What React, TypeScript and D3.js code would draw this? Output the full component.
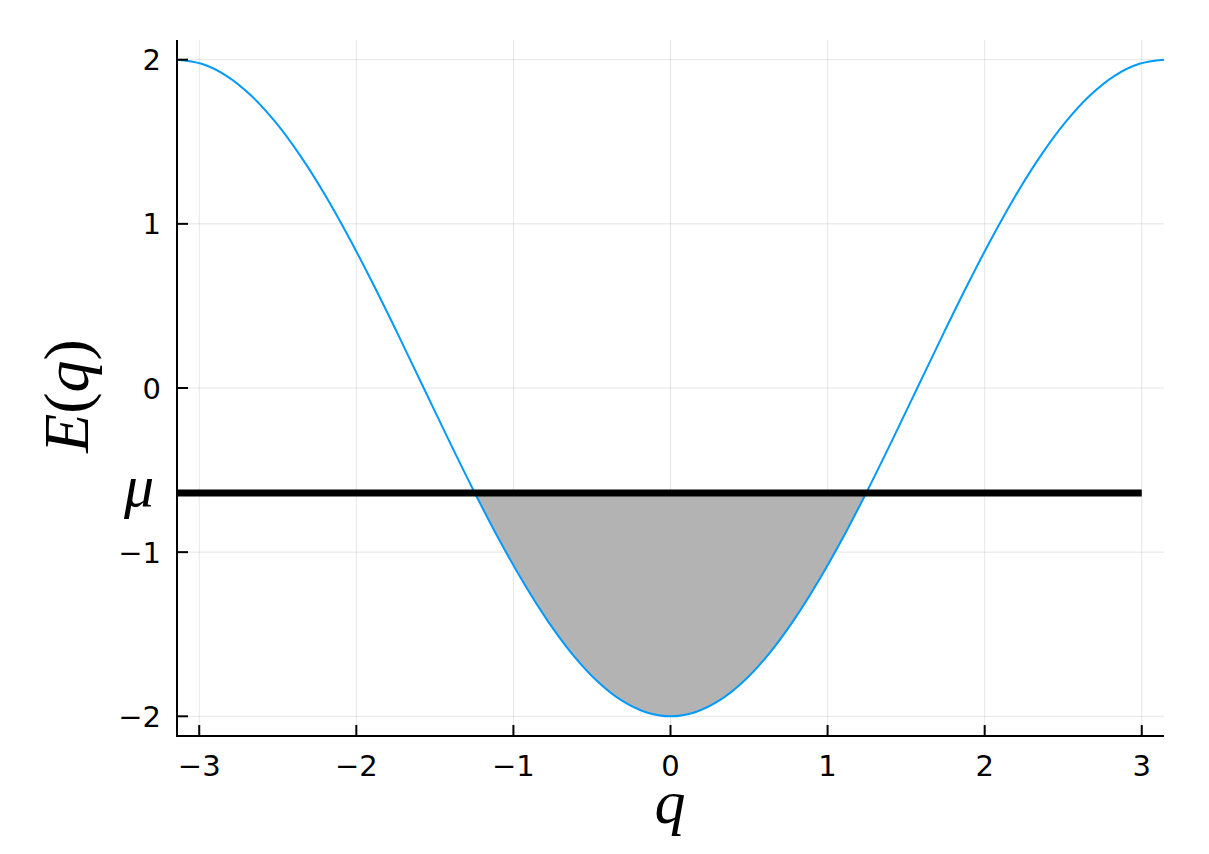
import { useRef, useEffect } from "react";
import * as d3 from "d3";

const qValues = [
  -3.142, -2.985, -2.827, -2.670, -2.513, -2.356, -2.199, -2.042, -1.885, -1.728,
  -1.571, -1.414, -1.257, -1.100, -0.942, -0.785, -0.628, -0.471, -0.314, -0.157,
  0.0, 0.157, 0.314, 0.471, 0.628, 0.785, 0.942, 1.100, 1.257, 1.414,
  1.571, 1.728, 1.885, 2.042, 2.199, 2.356, 2.513, 2.670, 2.827, 2.985, 3.142,
];
const eValues = [
  2.0, 1.975, 1.902, 1.782, 1.618, 1.414, 1.176, 0.908, 0.618, 0.313,
  0.0, -0.313, -0.618, -0.908, -1.176, -1.414, -1.618, -1.782, -1.902, -1.975,
  -2.0, -1.975, -1.902, -1.782, -1.618, -1.414, -1.176, -0.908, -0.618, -0.313,
  0.0, 0.313, 0.618, 0.908, 1.176, 1.414, 1.618, 1.782, 1.902, 1.975, 2.0,
];

// chemical potential line
const mu = -0.64;
const muRange = [-Math.PI, 3];

const xTicks = [-3, -2, -1, 0, 1, 2, 3];
const yTicks = [-2, -1, 0, 1, 2];

const fmt = (v: number) => (v < 0 ? `\u2212${Math.abs(v)}` : `${v}`);

export default function App() {
  const svgRef = useRef<SVGSVGElement>(null);

  useEffect(() => {
    document.body.style.margin = "0";
    if (!svgRef.current) return;

    const width = 1209;
    const height = 854;
    const svg = d3.select(svgRef.current);
    svg.selectAll("*").remove();
    svg.attr("viewBox", `0 0 ${width} ${height}`);

    const left = 177;
    const right = 1164;
    const top = 40;
    const bottom = 736;

    const x = d3.scaleLinear().domain([-Math.PI, Math.PI]).range([left, right]);
    const y = d3.scaleLinear().domain([-2.12, 2.12]).range([bottom, top]);

    const data = qValues.map((q, i) => ({ q, e: eValues[i] }));

    svg.append("rect").attr("width", width).attr("height", height).attr("fill", "#fff");

    // Grid lines
    svg
      .append("g")
      .selectAll("line")
      .data(xTicks)
      .join("line")
      .attr("x1", (d) => x(d))
      .attr("x2", (d) => x(d))
      .attr("y1", top)
      .attr("y2", bottom)
      .attr("stroke", "#000")
      .attr("stroke-opacity", 0.1)
      .attr("stroke-width", 1);

    svg
      .append("g")
      .selectAll("line")
      .data(yTicks)
      .join("line")
      .attr("x1", left)
      .attr("x2", right)
      .attr("y1", (d) => y(d))
      .attr("y2", (d) => y(d))
      .attr("stroke", "#000")
      .attr("stroke-opacity", 0.1)
      .attr("stroke-width", 1);

    // Shaded region between curve and mu (clipped to below the mu line)
    svg
      .append("clipPath")
      .attr("id", "below-mu")
      .append("rect")
      .attr("x", left)
      .attr("y", y(mu))
      .attr("width", right - left)
      .attr("height", bottom - y(mu));

    const area = d3
      .area<{ q: number; e: number }>()
      .x((d) => x(d.q))
      .y0(y(mu))
      .y1((d) => y(d.e))
      .curve(d3.curveCatmullRom);

    svg
      .append("path")
      .datum(data)
      .attr("d", area)
      .attr("fill", "#b3b3b3")
      .attr("clip-path", "url(#below-mu)");

    // Curve
    const line = d3
      .line<{ q: number; e: number }>()
      .x((d) => x(d.q))
      .y((d) => y(d.e))
      .curve(d3.curveCatmullRom);

    svg
      .append("path")
      .datum(data)
      .attr("d", line)
      .attr("fill", "none")
      .attr("stroke", "#009afa")
      .attr("stroke-width", 2);

    // mu line
    svg
      .append("line")
      .attr("x1", x(muRange[0]))
      .attr("x2", x(muRange[1]))
      .attr("y1", y(mu))
      .attr("y2", y(mu))
      .attr("stroke", "#000")
      .attr("stroke-width", 7);

    // Axes
    svg
      .append("line")
      .attr("x1", left)
      .attr("x2", left)
      .attr("y1", top)
      .attr("y2", bottom + 1)
      .attr("stroke", "#000")
      .attr("stroke-width", 2);
    svg
      .append("line")
      .attr("x1", left - 1)
      .attr("x2", right)
      .attr("y1", bottom)
      .attr("y2", bottom)
      .attr("stroke", "#000")
      .attr("stroke-width", 2);

    // Ticks
    svg
      .append("g")
      .selectAll("line")
      .data(xTicks)
      .join("line")
      .attr("x1", (d) => x(d))
      .attr("x2", (d) => x(d))
      .attr("y1", bottom)
      .attr("y2", bottom - 11)
      .attr("stroke", "#000")
      .attr("stroke-width", 2);
    svg
      .append("g")
      .selectAll("line")
      .data(yTicks)
      .join("line")
      .attr("x1", left)
      .attr("x2", left + 11)
      .attr("y1", (d) => y(d))
      .attr("y2", (d) => y(d))
      .attr("stroke", "#000")
      .attr("stroke-width", 2);

    // Tick labels
    svg
      .append("g")
      .selectAll("text")
      .data(xTicks)
      .join("text")
      .attr("x", (d) => x(d))
      .attr("y", 776)
      .attr("text-anchor", "middle")
      .attr("font-family", "DejaVu Sans")
      .attr("font-size", 29)
      .attr("fill", "#000")
      .text((d) => fmt(d));

    svg
      .append("g")
      .selectAll("text")
      .data(yTicks)
      .join("text")
      .attr("x", 161)
      .attr("y", (d) => y(d) + 10.5)
      .attr("text-anchor", "end")
      .attr("font-family", "DejaVu Sans")
      .attr("font-size", 29)
      .attr("fill", "#000")
      .text((d) => fmt(d));

    svg
      .append("text")
      .attr("x", 154)
      .attr("y", y(mu) + 13)
      .attr("text-anchor", "end")
      .attr("font-family", "Liberation Serif")
      .attr("font-style", "italic")
      .attr("font-size", 60)
      .attr("fill", "#000")
      .text("\u03bc");

    // Axis labels
    svg
      .append("text")
      .attr("x", 670)
      .attr("y", 823)
      .attr("text-anchor", "middle")
      .attr("font-family", "Liberation Serif")
      .attr("font-style", "italic")
      .attr("font-size", 62)
      .attr("fill", "#000")
      .text("q");

    const ylab = svg
      .append("text")
      .attr("transform", `translate(88,396) rotate(-90)`)
      .attr("text-anchor", "middle")
      .attr("font-family", "Liberation Serif")
      .attr("font-size", 64)
      .attr("fill", "#000");
    ylab.append("tspan").attr("font-style", "italic").text("E");
    ylab.append("tspan").text("(");
    ylab.append("tspan").attr("font-style", "italic").text("q");
    ylab.append("tspan").text(")");
  }, []);

  return <svg ref={svgRef} width={1209} height={854} style={{ display: "block" }} />;
}
